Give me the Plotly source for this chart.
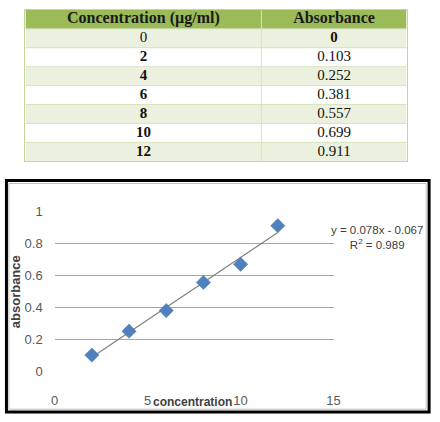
import plotly.graph_objects as go

# ---- data ----
table_conc = [0, 2, 4, 6, 8, 10, 12]
table_abs = ["0", "0.103", "0.252", "0.381", "0.557", "0.699", "0.911"]
header_labels = ["Concentration (µg/ml)", "Absorbance"]

chart_conc = [2, 4, 6, 8, 10, 12]
chart_abs = [0.103, 0.252, 0.381, 0.557, 0.670, 0.911]

trend_slope = 0.078
trend_intercept = -0.067
trend_r2 = 0.989

x_ticks = [0, 5, 10, 15]
y_ticks = [0, 0.2, 0.4, 0.6, 0.8, 1]

# ---- layout constants ----
W, H = 440, 422
COL_EDGES = [0, 242, 391]          # table column boundaries (table axis units = px)
N_ROWS = len(table_conc) + 1       # header + data rows

def px(x):
    return x / W

def py(y):
    return 1 - y / H

SANS = "Liberation Sans Narrow, Liberation Sans, Arial, sans-serif"
SERIF = "Liberation Serif, DejaVu Serif, serif"

fig = go.Figure()

# ---- table as a heatmap (cell backgrounds) ----
z = [[2, 2]] + [[1 - (i % 2)] * 2 for i in range(len(table_conc))]
fig.add_trace(go.Heatmap(
    z=z, x=COL_EDGES, y=list(range(N_ROWS + 1)),
    colorscale=[[0, "#ffffff"], [0.5, "#ebf1de"], [1, "#9bbb59"]],
    zmin=0, zmax=2, showscale=False, hoverinfo="skip",
    xaxis="x2", yaxis="y2",
))

# cell borders
bx, by = [], []
for r in range(1, N_ROWS):
    bx += [COL_EDGES[0], COL_EDGES[-1], None]
    by += [r, r, None]
for c in COL_EDGES[1:-1]:
    bx += [c, c, None]
    by += [0, N_ROWS, None]
fig.add_trace(go.Scatter(
    x=bx, y=by, mode="lines", line=dict(color="#d8e4bf", width=1),
    hoverinfo="skip", showlegend=False, xaxis="x2", yaxis="y2",
))

col_centers = [(COL_EDGES[i] + COL_EDGES[i + 1]) / 2 for i in range(2)]

# header text
fig.add_trace(go.Scatter(
    x=col_centers, y=[0.5, 0.5], mode="text",
    text=["<b>%s</b>" % h for h in header_labels],
    textfont=dict(family=SERIF, size=16, color="#1a1a1a"),
    hoverinfo="skip", showlegend=False, xaxis="x2", yaxis="y2",
))

# body text
col1 = [str(c) if i == 0 else "<b>%s</b>" % c for i, c in enumerate(table_conc)]
col2 = ["<b>%s</b>" % a if i == 0 else a for i, a in enumerate(table_abs)]
rows_y = [i + 1.5 for i in range(len(table_conc))]
fig.add_trace(go.Scatter(
    x=[col_centers[0]] * len(col1) + [col_centers[1]] * len(col2),
    y=rows_y + rows_y, mode="text", text=col1 + col2,
    textfont=dict(family=SERIF, size=15, color="#111111"),
    hoverinfo="skip", showlegend=False, xaxis="x2", yaxis="y2",
))

# ---- chart ----
tx = [min(chart_conc), max(chart_conc)]
ty = [trend_slope * v + trend_intercept for v in tx]
fig.add_trace(go.Scatter(
    x=tx, y=ty, mode="lines",
    line=dict(color="#808080", width=1.2),
    showlegend=False, hoverinfo="skip",
))
fig.add_trace(go.Scatter(
    x=chart_conc, y=chart_abs, mode="markers",
    marker=dict(symbol="diamond", size=11, color="#4f81bd",
                line=dict(color="#4a7ab5", width=0.5)),
    showlegend=False,
))

tick_font = dict(family=SANS, size=13, color="#595959")

fig.update_layout(
    width=W, height=H,
    margin=dict(l=0, r=0, t=0, b=0),
    paper_bgcolor="white",
    plot_bgcolor="white",
    showlegend=False,
    xaxis=dict(
        domain=[px(52), px(338)],
        range=[0, 15], tickvals=x_ticks, ticktext=[str(v) for v in x_ticks],
        showgrid=False, zeroline=False, showline=False,
        ticks="", ticklabelstandoff=19, tickfont=tick_font,
        fixedrange=True,
    ),
    yaxis=dict(
        domain=[py(378), py(212)],
        range=[0, 1], tickvals=y_ticks, ticktext=["0", "0.2", "0.4", "0.6", "0.8", "1"],
        showgrid=True, gridcolor="#a6a6a6", gridwidth=1,
        zeroline=False, showline=False,
        ticks="", ticklabelstandoff=11, tickfont=tick_font,
        fixedrange=True,
    ),
    xaxis2=dict(
        domain=[px(22), px(413)], anchor="y2",
        range=[COL_EDGES[0], COL_EDGES[-1]],
        showgrid=False, zeroline=False, showticklabels=False, ticks="",
        showline=True, mirror=True, linecolor="#c3d69b", linewidth=1,
        fixedrange=True,
    ),
    yaxis2=dict(
        domain=[py(160), py(3)], anchor="x2",
        range=[N_ROWS, 0],
        showgrid=False, zeroline=False, showticklabels=False, ticks="",
        showline=True, mirror=True, linecolor="#c3d69b", linewidth=1,
        fixedrange=True,
    ),
    annotations=[
        dict(text="<b>absorbance</b>", xref="paper", yref="paper",
             x=px(12), y=py(295), textangle=-90, showarrow=False,
             xanchor="center", yanchor="middle",
             font=dict(family=SANS, size=13, color="#404040")),
        dict(text="<b>concentration</b>", xref="paper", yref="paper",
             x=px(193), y=py(410), showarrow=False,
             xanchor="center", yanchor="middle",
             font=dict(family=SANS, size=12, color="#404040")),
        dict(text="y = %.3fx - %.3f<br>R<sup>2</sup> = %.3f" % (trend_slope, abs(trend_intercept), trend_r2),
             xref="paper", yref="paper",
             x=px(383), y=py(239), showarrow=False, align="center",
             xanchor="center", yanchor="middle",
             font=dict(family=SANS, size=11.5, color="#404040")),
    ],
    shapes=[
        dict(type="rect", xref="paper", yref="paper",
             x0=px(5), x1=px(433), y0=py(417), y1=py(183),
             line=dict(color="#bfbfbf", width=1)),
        dict(type="rect", xref="paper", yref="paper",
             x0=px(2.5), x1=px(436), y0=py(420), y1=py(180),
             line=dict(color="black", width=3)),
    ],
)

fig.write_html("out.html")
